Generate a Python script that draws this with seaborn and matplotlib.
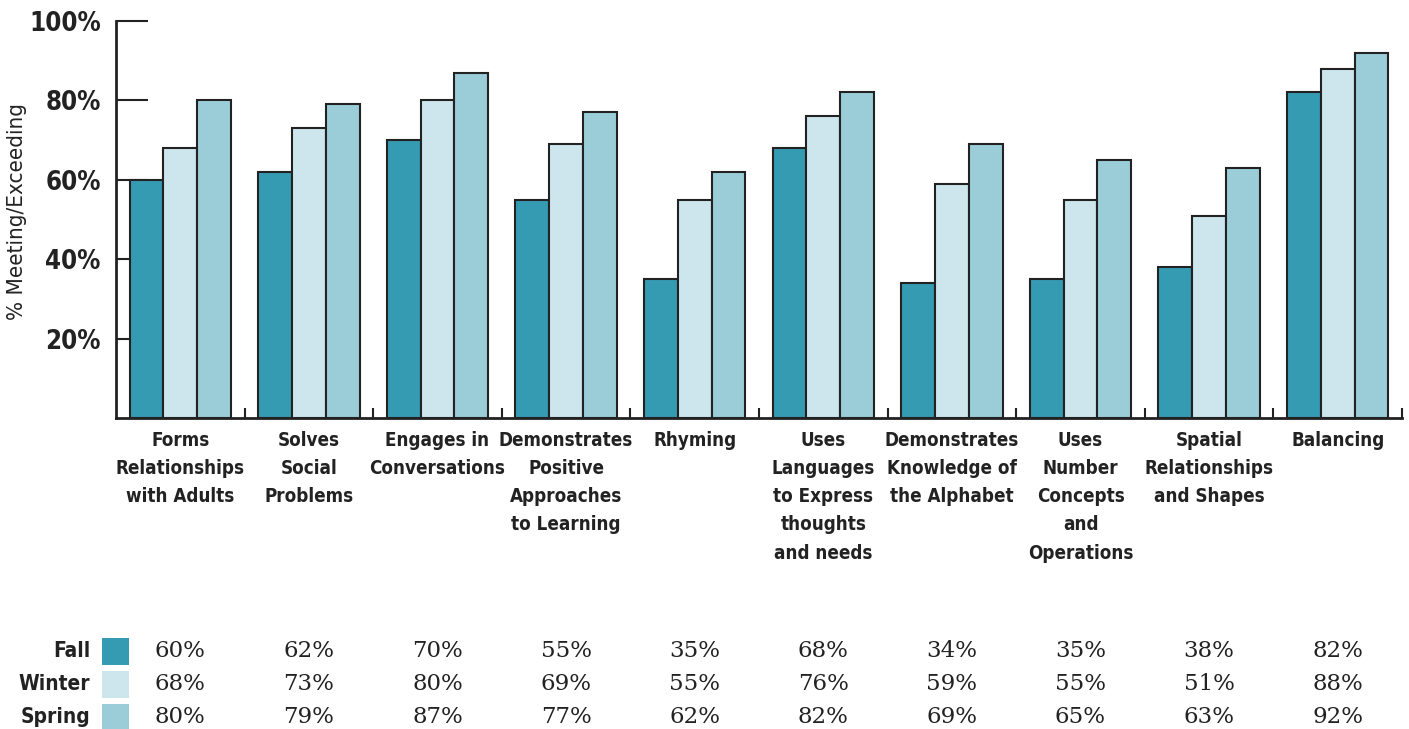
import numpy as np
import pandas as pd
import seaborn as sns
import matplotlib.pyplot as plt
import matplotlib.transforms as mtransforms
from matplotlib.patches import Rectangle

categories = ['Forms\nRelationships\nwith Adults', 'Solves\nSocial\nProblems',
              'Engages in\nConversations', 'Demonstrates\nPositive\nApproaches\nto Learning',
              'Rhyming', 'Uses\nLanguages\nto Express\nthoughts\nand needs',
              'Demonstrates\nKnowledge of\nthe Alphabet', 'Uses\nNumber\nConcepts\nand\nOperations',
              'Spatial\nRelationships\nand Shapes', 'Balancing']
seasons = ['Fall', 'Winter', 'Spring']
fall = [60, 62, 70, 55, 35, 68, 34, 35, 38, 82]
winter = [68, 73, 80, 69, 55, 76, 59, 55, 51, 88]
spring = [80, 79, 87, 77, 62, 82, 69, 65, 63, 92]
colors = ['#359bb2', '#cde6ed', '#9bcdd8']
yticks = [20, 40, 60, 80, 100]

sns.set_style('white')
plt.rcParams['font.family'] = ['DejaVu Sans']
plt.rcParams['font.stretch'] = 'condensed'

df = pd.DataFrame({'Category': categories * 3,
                   'Season': np.repeat(seasons, len(categories)),
                   'Value': fall + winter + spring})

fig = plt.figure(figsize=(14.09, 7.29), dpi=100)
W, H = 1409, 729
ax = fig.add_axes([116 / W, 1 - 418 / H, (1402 - 116) / W, (418 - 21) / H])

sns.barplot(data=df, x='Category', y='Value', hue='Season', palette=colors,
            saturation=1, width=0.79, gap=0, edgecolor='#222222', linewidth=1.5, ax=ax,
            legend=False, zorder=3)

ax.set_xlim(-0.5, len(categories) - 0.5)
ax.set_ylim(0, 100)
ax.set_yticks(yticks)
ax.set_yticklabels([f'{t}%' for t in yticks], fontsize=18.5, fontweight='bold', color='#222222')
ax.tick_params(axis='y', left=True, direction='in', length=23, width=1.5, color='#222222', pad=11)
ax.tick_params(axis='x', which='major', bottom=False, length=0, pad=9)
ax.set_xticks(np.arange(len(categories)))
ax.set_xticklabels(categories, fontsize=13.5, fontweight='bold', color='#222222', linespacing=1.62,
                   va='top')
ax.set_xticks(np.arange(0.5, len(categories), 1), minor=True)
ax.tick_params(axis='x', which='minor', bottom=True, direction='in', length=7, width=1.5,
               color='#222222')
ax.set_xlabel('')
ax.set_ylabel('% Meeting/Exceeding', fontsize=16, color='#222222', fontweight='normal')
ax.yaxis.set_label_coords(-0.069, 0.52)
for s in ['top', 'right']:
    ax.spines[s].set_visible(False)
for s in ['left', 'bottom']:
    ax.spines[s].set_linewidth(2)
    ax.spines[s].set_color('#222222')

# data table under the chart
trans = mtransforms.blended_transform_factory(ax.transData, fig.transFigure)
rows = [fall, winter, spring]
row_y = [651, 684, 717]
for name, vals, col, yp in zip(seasons, rows, colors, row_y):
    fy = 1 - yp / H
    fig.text(90 / W, fy, name, ha='right', va='center', fontsize=15,
             fontweight='bold', color='#222222')
    fig.add_artist(Rectangle((102 / W, 1 - (yp + 14) / H), 27 / W, 27 / H,
                             transform=fig.transFigure, facecolor=col, edgecolor='none'))
    for i, v in enumerate(vals):
        ax.text(i, fy, f'{v}%', transform=trans, ha='center', va='center',
                fontsize=16.5, family=['DejaVu Serif'], fontstretch='normal',
                color='#222222')

fig.savefig('out.png', dpi=100)
